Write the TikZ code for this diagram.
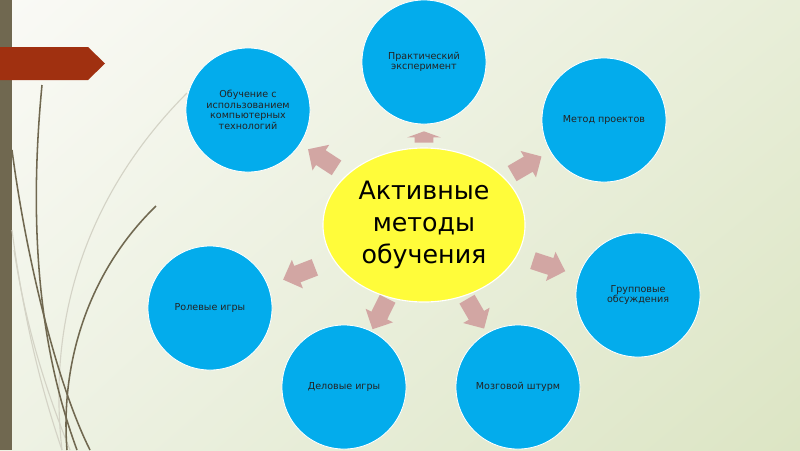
\documentclass[tikz,border=0pt]{standalone}
\usepackage{fontspec}
\setmainfont{DejaVu Sans}
\usetikzlibrary{shapes.geometric,shapes.arrows,shadings}

\tikzset{
  method/.style={circle, fill=methodBlue, draw=white, line width=0.6pt, minimum size=3.1cm, inner sep=0pt, align=center, text=methodText, font=\fontsize{6.8}{7.6}\selectfont},
  blockarrow/.style={single arrow, fill=arrowPink, inner xsep=0pt, inner ysep=0.2125cm, minimum height=0.85cm, single arrow head extend=0.1625cm, sloped, allow upside down},
  wisp/.style={line width=1.1pt, color=wispDark},
  wisplight/.style={line width=0.8pt, color=wispLight}
}

\begin{document}
\begin{tikzpicture}[x=0.025cm,y=-0.025cm]
\definecolor{bgTL}{RGB}{250,250,246}
\definecolor{bgTR}{RGB}{232,238,216}
\definecolor{bgBL}{RGB}{238,242,228}
\definecolor{bgBR}{RGB}{220,229,196}
\definecolor{barColor}{RGB}{112,104,80}
\definecolor{bannerColor}{RGB}{160,48,16}
\definecolor{wispDark}{RGB}{112,104,80}
\definecolor{wispLight}{RGB}{212,211,198}
\definecolor{methodBlue}{RGB}{3,172,236}
\definecolor{methodText}{RGB}{35,35,35}
\definecolor{coreYellow}{RGB}{255,252,58}
\definecolor{arrowPink}{RGB}{210,166,163}
\shade[upper left=bgTL, upper right=bgTR, lower left=bgBL, lower right=bgBR] (0,0) rectangle (800,450);
\useasboundingbox (0,0) rectangle (800,450);
\fill[barColor] (0,0) rectangle (12,450);
\draw[wisplight] (187,93) .. controls (100,180) and (45,300) .. (62,450);
\draw[wisplight] (12,230) .. controls (25,330) and (45,400) .. (62,450);
\draw[wisplight] (14,250) .. controls (28,340) and (52,405) .. (70,450);
\draw[wisp] (42,85) .. controls (28,230) and (40,350) .. (77,450);
\draw[wisp] (12,150) .. controls (25,250) and (55,380) .. (90,450);
\draw[wisp] (156,206) .. controls (90,270) and (60,360) .. (67,450);
\fill[bannerColor] (0,47) -- (88,47) -- (105,63.5) -- (88,80) -- (0,80) -- cycle;

\node[ellipse, fill=coreYellow, draw=white, line width=0.8pt, minimum width=5.05cm, minimum height=3.85cm, inner sep=0pt, align=center, font=\fontsize{18}{22.8}\selectfont] (core) at (424,225) {Активные\\методы\\обучения};
\node[method] (prak) at (424,62) {Практический\\эксперимент};
\node[method] (proekt) at (604,120) {Метод проектов};
\node[method] (gruppa) at (638,295) {Групповые\\обсуждения};
\node[method] (shturm) at (518,387) {Мозговой штурм};
\node[method] (delo) at (344,387) {Деловые игры};
\node[method] (role) at (210,308) {Ролевые игры};
\node[method] (komp) at (248,110) {Обучение с\\использованием\\компьютерных\\технологий};

\path (core.center) -- (prak.center) node[blockarrow, pos=0.53, minimum height=0.28cm, inner ysep=0.225cm, single arrow head extend=0.19cm, single arrow tip angle=140] (toPrak) {};
\foreach \m/\p in {proekt/0.55, gruppa/0.565, shturm/0.525, delo/0.525, role/0.565, komp/0.557}
  \path (core.center) -- (\m.center) node[blockarrow, pos=\p] (to\m) {};
\end{tikzpicture}
\end{document}
